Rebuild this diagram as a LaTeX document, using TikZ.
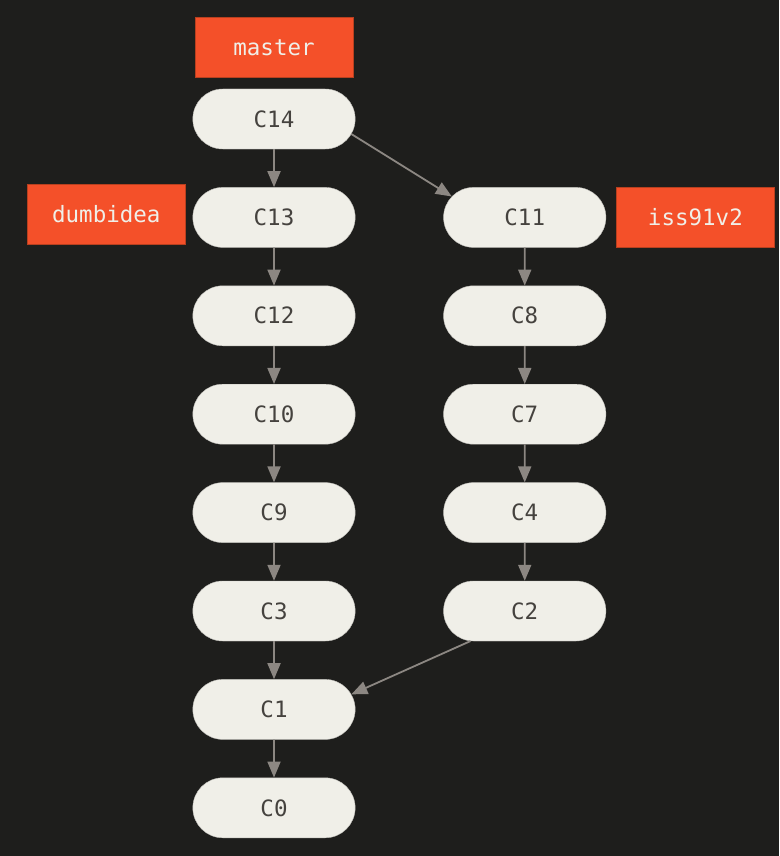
\documentclass[tikz,border=0pt]{standalone}
\usepackage{fontspec}
\setmonofont{DejaVu Sans Mono}
\usetikzlibrary{positioning,
           shapes.misc,               % rounded rectangle
           arrows.meta}
\definecolor{bg}{HTML}{1E1E1C}
\definecolor{commitfill}{HTML}{F0EFE8}
\definecolor{committext}{HTML}{45423E}
\definecolor{branchfill}{HTML}{F45029}
\definecolor{branchedge}{HTML}{B8401F}
\definecolor{parent}{HTML}{8C8782}

\tikzset{
  commit/.style={rounded rectangle, fill=commitfill, draw=commitfill!80!black,
    line width=0.4pt, minimum width=169pt, minimum height=60pt,
    text=committext, font=\ttfamily\fontsize{22.5}{26}\selectfont},
  branch/.style={rectangle, fill=branchfill, draw=branchedge, line width=0.6pt,
    minimum width=158pt, minimum height=60pt,
    text=commitfill, font=\ttfamily\fontsize{22.5}{26}\selectfont},
  parent/.style={draw=parent, line width=1.8pt, -{Triangle[length=16pt,width=13pt]}}
}

\begin{document}
\begin{tikzpicture}[x=1pt, y=-1pt, node distance=38pt]
    \fill[bg] (0,0) rectangle (779,856);
    % master line
    \node[commit](c14) at (274,119){C14};
    \node[commit, below=of c14](c13){C13};
    \node[commit, below=of c13](c12){C12};
    \node[commit, below=of c12](c10){C10};
    \node[commit, below=of c10](c9){C9};
    \node[commit, below=of c9](c3){C3};
    \node[commit, below=of c3](c1){C1};
    \node[commit, below=of c1](c0){C0};
    % iss91v2 line
    \node[commit, right=88pt of c13](c11){C11};
    \node[commit, below=of c11](c8){C8};
    \node[commit, below=of c8](c7){C7};
    \node[commit, below=of c7](c4){C4};
    \node[commit, below=of c4](c2){C2};
    % branches
    \node[branch, above=11pt of c14](master){master};
    \node[branch, left=7pt of c13, yshift=3pt](dumbidea){dumbidea};
    \node[branch, right=10pt of c11](iss){iss91v2};
    % parents
    \foreach \a/\b in {c14/c13, c13/c12, c12/c10, c10/c9, c9/c3, c3/c1, c1/c0,
                       c11/c8, c8/c7, c7/c4, c4/c2}
      \draw[parent] (\a)--(\b);
    \draw[parent] (c14.-11.5)--(c11.164);
    \draw[parent] (c2.209)--(c1.11);
\end{tikzpicture}
\end{document}
